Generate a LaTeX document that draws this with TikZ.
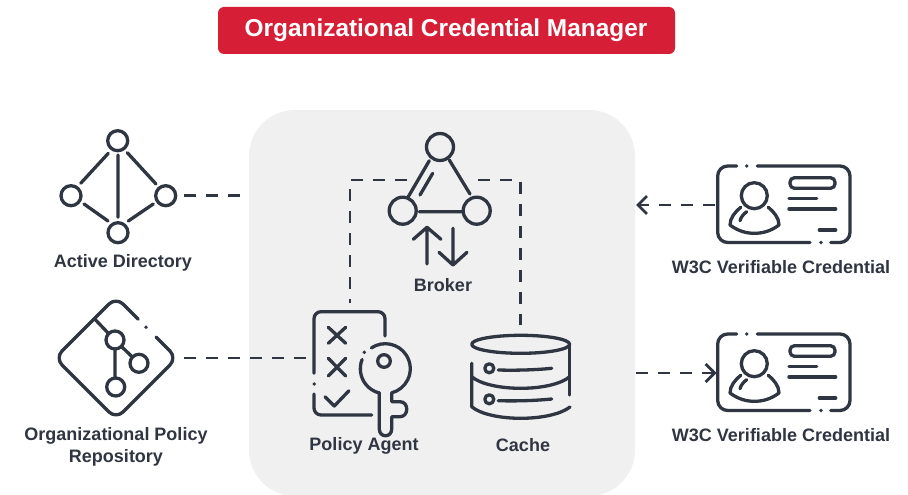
\documentclass[tikz,border=0pt]{standalone}
\usepackage{fontspec}
\setmainfont{Liberation Sans}
\usetikzlibrary{arrows.meta}
\definecolor{ink}{HTML}{2F3541}
\definecolor{titlered}{HTML}{D61F36}
\definecolor{panel}{HTML}{F0F0F0}
\tikzset{
  icon/.style={draw=ink,line width=3.3pt,line cap=round,line join=round},
  dashline/.style={draw=ink,line width=2.6pt,dash pattern=on 12pt off 10pt},
  tip/.style={-{Straight Barb[length=9pt,width=18pt,line width=2.8pt]}},
  lab/.style={text=ink,font=\fontsize{18}{22}\selectfont\bfseries,align=center,inner sep=0pt},
  dotmark/.style={fill=ink,draw=none}
}
\newcommand{\credcard}[2]{%
  \begin{scope}[shift={(#1,#2)}]
    \draw[icon,rounded corners=10pt] (736.7,166)--(717.7,166)--(717.7,242.5)--(810,242.5);
    \draw[icon,rounded corners=10pt] (757.3,166)--(850,166)--(850,242.5)--(830.7,242.5);
    \fill[dotmark] (746.7,166) circle (1.9pt) (821,242.5) circle (1.9pt);
    \draw[icon] (754.3,195.7) circle (13pt);
    \draw[icon] (740.7,207.3) .. controls (735,212) and (730,218) .. (730,225)
      .. controls (738,231) and (746,233.3) .. (754.3,233.3)
      .. controls (763,233.3) and (771,231) .. (779,225)
      .. controls (779,218) and (774,212) .. (768.3,207.3);
    \draw[icon] (746.7,211.7) .. controls (743.5,214) and (741,217) .. (740,220.7);
    \draw[icon,rounded corners=4.5pt] (790,177.7) rectangle (835,188.3);
    \draw[icon] (789,198.7)--(816.7,198.7) (789,209)--(835.7,209) (819.3,230)--(835.7,230);
  \end{scope}}
\begin{document}
\begin{tikzpicture}[x=1pt,y=-1pt]
\useasboundingbox (0,0) rectangle (908,495);
\fill[white] (0,0) rectangle (908,495);
% panel and title
\fill[panel,rounded corners=46pt] (249,110) rectangle (635,496);
\node[fill=titlered,rounded corners=6pt,minimum width=457pt,minimum height=47pt,inner sep=0pt] (title) at (446.5,30.5) {};
\node[text=white,font=\fontsize{24.4}{30}\selectfont\bfseries,inner sep=0pt] (titletext) at (446,30.5) {Organizational Credential Manager};
% named connector ends
\coordinate (adout) at (184,195.7);
\coordinate (adin) at (241,195.7);
\coordinate (repoout) at (184,358);
\coordinate (agentin) at (306,358);
\coordinate (brokerL) at (406.7,180);
\coordinate (brokerR) at (478.3,180);
\coordinate (agenttop) at (350,303);
\coordinate (cachetop) at (520.7,325);
\coordinate (cardAout) at (715,205);
\coordinate (panelA) at (636,205);
\coordinate (panelB) at (636,373);
\coordinate (cardBin) at (716.5,373);
% Active Directory icon
\draw[icon] (117.7,140.7) circle (10pt) (71,195.7) circle (10pt) (165.7,195.7) circle (10pt) (118,232.7) circle (10pt);
\draw[icon] (108.3,153.3)--(80.7,183.3) (127.3,152.7)--(156,184) (118,155)--(118,217.3) (84,204)--(108,221) (128.3,221)--(153.3,204);
\node[lab] (adlabel) at (123,262.5) {Active Directory};
% Repository icon
\draw[icon,rounded corners=10pt] (138.3,319.3)--(116,297)--(55,358)--(116,419)--(177,358)--(156,337);
\fill[dotmark] (146,327.3) circle (1.9pt);
\draw[icon] (95,319.3)--(108.6,333.6) (115,349)--(115,378) (121.7,346.7)--(132,356.7);
\draw[icon] (115,340) circle (9pt) (139,363.3) circle (9pt) (115.7,387) circle (9pt);
\node[lab] (repolabel) at (116,447) {Organizational Policy\\[0pt]Repository};
% Broker icon
\draw[icon] (440,147) circle (13.5pt) (402.7,210.7) circle (13.5pt) (476.7,210.7) circle (13.5pt);
\draw[icon] (429.3,160.7)--(408.3,196.7) (432.7,173.3)--(420,195) (449.3,160)--(470,194) (419.3,211.7)--(462.7,211.7);
\draw[icon] (427,264)--(427,227.3) (413.3,239.3)--(427,227.3)--(441,239.3);
\draw[icon] (453,228.3)--(453,265) (439,252.3)--(453,265)--(467,252.3);
\node[lab] (brokerlabel) at (443,285) {Broker};
% Policy Agent icon
\draw[icon,rounded corners=7pt] (314,373.3)--(314,311.7)--(385,311.7)--(385,336);
\fill[dotmark] (314.3,384) circle (1.9pt) (364.3,352.3) circle (1.9pt);
\draw[icon,rounded corners=7pt] (314,394)--(314,415)--(371.7,415);
\draw[icon] (328.3,327.3)--(345.7,343.3) (345.7,327.3)--(328.3,343.3);
\draw[icon] (328.3,358.3)--(345.7,376) (345.7,358.3)--(328.3,376);
\draw[icon] (325,396.7)--(334.3,406)--(349,390.7);
\draw[icon] (384,361) circle (6.3pt);
\draw[icon] (371.4,347.9) arc[start angle=-123.7,end angle=75.2,radius=25]
  -- (391.7,401.7) -- (400,401.7) .. controls (409,401.7) and (409,416.7) .. (400,416.7) -- (391.7,416.7)
  -- (391.7,429) .. controls (391.7,438) and (379.3,438) .. (379.3,429) -- (379.3,392.7);
\draw[icon] (362.1,359.5) arc[start angle=-158.3,end angle=-254.1,radius=25];
\node[lab] (agentlabel) at (364,446) {Policy Agent};
% Cache icon
\draw[icon] (520.7,344.3) ellipse (49pt and 9pt);
\draw[icon] (569.7,344.3)--(569.7,395);
\draw[icon] (471.7,363.3)--(471.7,406.7) .. controls (480,414) and (500,418.3) .. (520.7,418.3)
  .. controls (542,418.3) and (561,414) .. (570,407);
\draw[icon] (471.7,376.7) .. controls (480,384) and (500,388.3) .. (520.7,388.3)
  .. controls (542,388.3) and (561,384) .. (569.7,376.7);
\draw[icon] (489.3,368.3) circle (4.5pt) (489.3,399.3) circle (4.5pt);
\draw[icon] (498.3,370) .. controls (515,370.5) and (535,370) .. (551.7,368.3);
\draw[icon] (498.3,400.7) .. controls (515,401.2) and (535,400.7) .. (551.7,399);
\node[lab] (cachelabel) at (523,445) {Cache};
% Credential cards
\credcard{0}{0}
\credcard{0}{168}
\node[lab] (cardAlabel) at (781,267) {W3C Verifiable Credential};
\node[lab] (cardBlabel) at (781,435) {W3C Verifiable Credential};
% connectors
\draw[dashline] (adout)--(adin);
\draw[dashline] (repoout)--(agentin);
\draw[dashline] (brokerL)-|(agenttop);
\draw[dashline] (brokerR)-|(cachetop);
\draw[dashline,tip] (cardAout)--(panelA);
\draw[dashline,tip] (panelB)--(cardBin);
\end{tikzpicture}
\end{document}
